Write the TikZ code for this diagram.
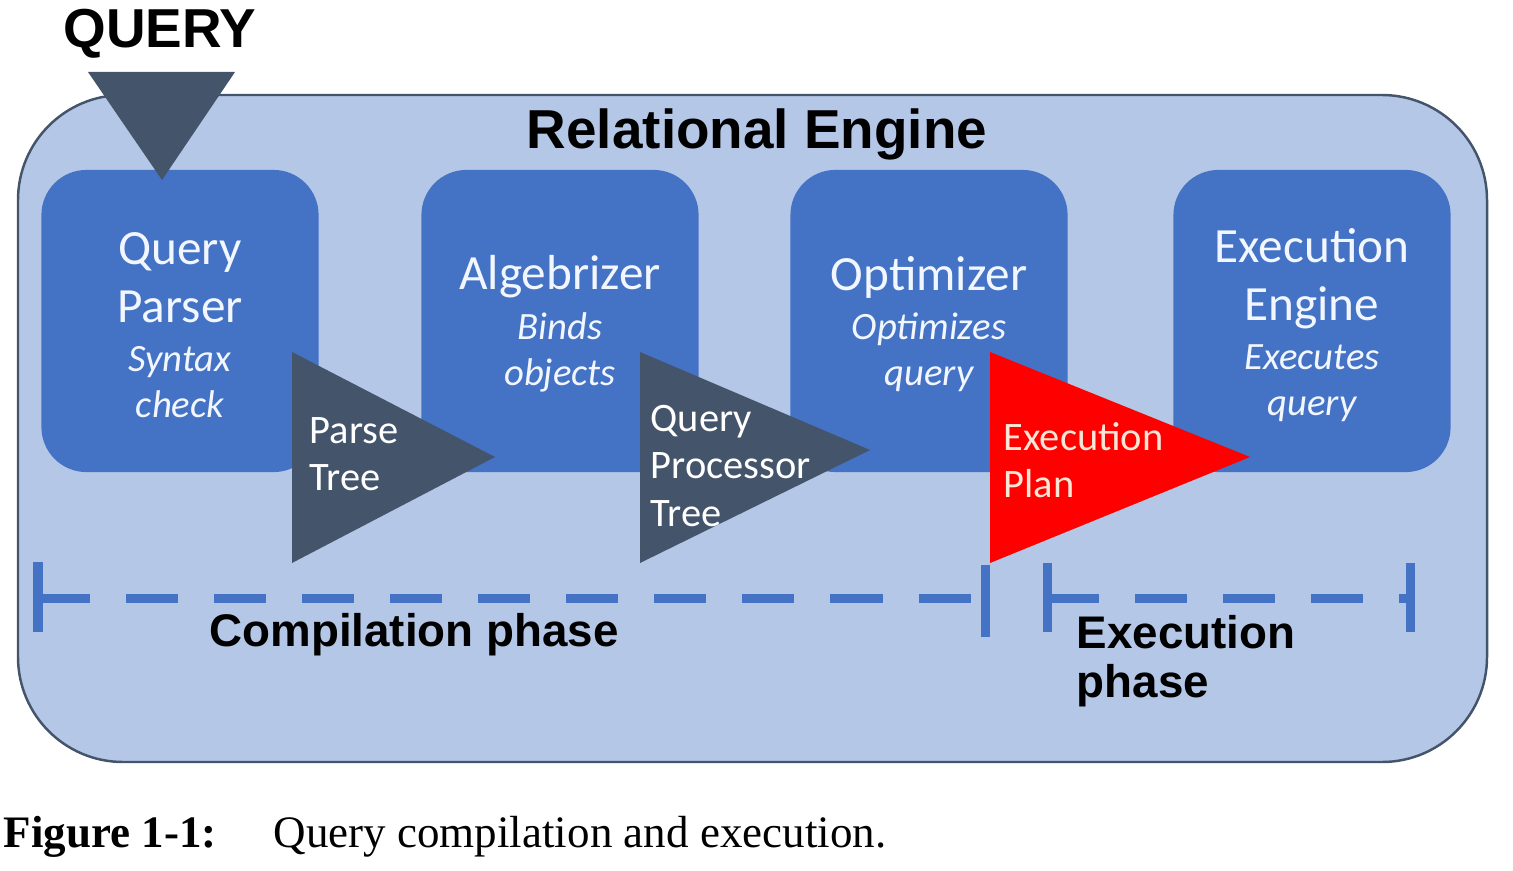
\documentclass[tikz,border=0pt]{standalone}
\usepackage{fontspec}
\setmainfont{Liberation Sans}
\newfontfamily\calfont{Carlito}
\newfontfamily\capfont{Liberation Serif}
\usetikzlibrary{positioning}

\definecolor{engine}{HTML}{B4C7E7}
\definecolor{stageblue}{HTML}{4472C4}
\definecolor{slate}{HTML}{44546A}
\definecolor{planred}{HTML}{FF0000}
\definecolor{plantext}{HTML}{FBE5D6}
\definecolor{stagetext}{HTML}{F2F6FF}

\tikzset{
  stage/.style={fill=stageblue, rounded corners=0.45cm, minimum width=2.77cm, minimum height=3.02cm, inner sep=0pt},
  stagetitle/.style={text=stagetext, align=center, inner sep=0pt, font=\calfont\fontsize{14}{16.5}\selectfont},
  stagenote/.style={text=stagetext, align=center, inner sep=0pt, font=\calfont\itshape\fontsize{11}{13.1}\selectfont},
  flowtext/.style={text=white, align=left, anchor=west, inner sep=0pt, font=\calfont\fontsize{11.5}{13.4}\selectfont},
  heading/.style={font=\bfseries\fontsize{15.6}{19}\selectfont, inner sep=0pt},
  phasetext/.style={font=\bfseries\fontsize{13}{14}\selectfont, inner sep=0pt},
  phaseline/.style={stageblue, line width=0.09cm, dash pattern=on 0.52cm off 0.36cm},
  phasebar/.style={stageblue, line width=0.09cm},
}

\begin{document}
\begin{tikzpicture}[x=0.01cm, y=-0.01cm]
\useasboundingbox (0,0) rectangle (1513,870);

% relational engine frame
\draw[fill=engine, draw=slate, line width=0.7pt, rounded corners=1.05cm] (18,95) rectangle (1487,762);
\node[heading] (engine) at (757,134) {Relational Engine};

% stages
\node[stage] (parser) at (180,321) {};
\node[stage] (algebrizer) at (560,321) {};
\node[stage] (optimizer) at (929,321) {};
\node[stage] (executor) at (1312,321) {};

\node[stagetitle] (parsertitle) at (180,278) {Query\\Parser};
\node[stagenote] (parsernote) at (180,382) {Syntax\\check};
\node[stagetitle] (algebrizertitle) at (560,277) {Algebrizer};
\node[stagenote] (algebrizernote) at (560,352) {Binds\\objects};
\node[stagetitle] (optimizertitle) at (929,277) {Optimizer};
\node[stagenote] (optimizernote) at (929,352) {Optimizes\\query};
\node[stagetitle] (executortitle) at (1312,279) {Execution\\Engine};
\node[stagenote] (executornote) at (1312,383) {Executes\\query};

% query input
\node[heading] (query) at (160,34) {QUERY};
\coordinate (qa) at (88,72);
\coordinate (qb) at (235,72);
\coordinate (qc) at (162,180);
\fill[slate] (qa) -- (qb) -- (qc) -- cycle;

% outputs between stages
\coordinate (pa) at (292,352);
\coordinate (pb) at (292,563);
\coordinate (pc) at (495,457);
\fill[slate] (pa) -- (pc) -- (pb) -- cycle;
\node[flowtext] (parsetree) at (309,454) {Parse\\Tree};

\coordinate (ta) at (640,352);
\coordinate (tb) at (640,563);
\coordinate (tc) at (870,450);
\fill[slate] (ta) -- (tc) -- (tb) -- cycle;
\node[flowtext] (proctree) at (650,466) {Query\\Processor\\Tree};

\coordinate (ea) at (990,352);
\coordinate (eb) at (990,563);
\coordinate (ec) at (1250,457);
\fill[planred] (ea) -- (ec) -- (eb) -- cycle;
\node[flowtext, text=plantext] (plan) at (1003,460) {Execution\\Plan};

% phases
\coordinate (cs) at (38,598);
\coordinate (ce) at (985,598);
\coordinate (xs) at (1047,598);
\coordinate (xe) at (1410,598);
\draw[phaseline] (cs) -- (ce);
\draw[phaseline] (xs) -- (xe);
\draw[phasebar] ([yshift=0.36cm]cs) -- ([yshift=-0.34cm]cs);
\draw[phasebar] ([yshift=0.33cm]ce) -- ([yshift=-0.39cm]ce);
\draw[phasebar] ([yshift=0.35cm]xs) -- ([yshift=-0.34cm]xs);
\draw[phasebar] ([yshift=0.35cm]xe) -- ([yshift=-0.34cm]xe);
\node[phasetext] (compile) at (414,635) {Compilation phase};
\node[phasetext, align=left, anchor=west] (execute) at (1076,661) {Execution\\phase};

% caption
\node[anchor=base west, inner sep=0pt, font=\capfont\bfseries\fontsize{12.8}{15}\selectfont] (figlabel) at (3,847) {Figure 1-1:};
\node[anchor=base west, inner sep=0pt, font=\capfont\fontsize{12.8}{15}\selectfont] (figtext) at (273,847) {Query compilation and execution.};

\end{tikzpicture}
\end{document}
